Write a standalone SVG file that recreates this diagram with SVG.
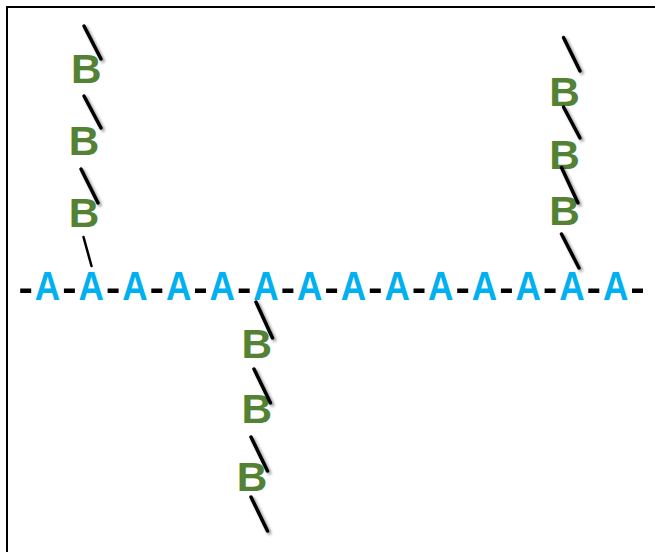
<svg xmlns="http://www.w3.org/2000/svg" width="655" height="552" viewBox="0 0 655 552">
  <style>
    .a { fill: #00B0F0; font-family: "Liberation Sans", Arial, sans-serif; font-weight: bold; font-size: 40px; text-anchor: middle; transform: scale(0.88, 1); }
    .b { fill: #548235; font-family: "Liberation Sans", Arial, sans-serif; font-weight: bold; font-size: 40px; text-anchor: middle; transform: scale(1.06, 1); }
    .dash { fill: #000; }
    .bond { stroke: #000; stroke-width: 3.5; stroke-linecap: round; fill: none; filter: url(#soft); }
    .bond.thin { stroke-width: 2.5; filter: none; }
    .frame { stroke: #000; stroke-width: 2; fill: none; }
  </style>
  <defs>
    <!-- soft grey shadow under the branch bonds -->
    <filter id="soft" x="-50%" y="-50%" width="200%" height="200%">
      <feGaussianBlur in="SourceAlpha" stdDeviation="1.6" result="blur"/>
      <feOffset in="blur" dx="2" dy="2" result="off"/>
      <feComponentTransfer in="off" result="shade">
        <feFuncA type="linear" slope="0.45"/>
      </feComponentTransfer>
      <feMerge>
        <feMergeNode in="shade"/>
        <feMergeNode in="SourceGraphic"/>
      </feMerge>
    </filter>
  </defs>

  <rect width="655" height="552" fill="#fff"/>
  <path class="frame" d="M7 552 V7 H655"/>

  <!-- backbone units -->
  <g id="a1" transform="translate(47.5 300)"><text class="a">A</text></g>
  <g id="a2" transform="translate(91.2 300)"><text class="a">A</text></g>
  <g id="a3" transform="translate(134.9 300)"><text class="a">A</text></g>
  <g id="a4" transform="translate(178.6 300)"><text class="a">A</text></g>
  <g id="a5" transform="translate(222.3 300)"><text class="a">A</text></g>
  <g id="a6" transform="translate(266 300)"><text class="a">A</text></g>
  <g id="a7" transform="translate(309.7 300)"><text class="a">A</text></g>
  <g id="a8" transform="translate(353.4 300)"><text class="a">A</text></g>
  <g id="a9" transform="translate(397.1 300)"><text class="a">A</text></g>
  <g id="a10" transform="translate(440.8 300)"><text class="a">A</text></g>
  <g id="a11" transform="translate(484.5 300)"><text class="a">A</text></g>
  <g id="a12" transform="translate(528.2 300)"><text class="a">A</text></g>
  <g id="a13" transform="translate(571.9 300)"><text class="a">A</text></g>
  <g id="a14" transform="translate(615.6 300)"><text class="a">A</text></g>

  <!-- branch units: left arm -->
  <g id="b1" transform="translate(86.3 83)"><text class="b">B</text></g>
  <g id="b2" transform="translate(84 155)"><text class="b">B</text></g>
  <g id="b3" transform="translate(84 227)"><text class="b">B</text></g>
  <!-- branch units: lower arm -->
  <g id="b4" transform="translate(256.7 358)"><text class="b">B</text></g>
  <g id="b5" transform="translate(256.7 423)"><text class="b">B</text></g>
  <g id="b6" transform="translate(252 491)"><text class="b">B</text></g>
  <!-- branch units: right arm -->
  <g id="b7" transform="translate(564.5 106)"><text class="b">B</text></g>
  <g id="b8" transform="translate(564.5 169)"><text class="b">B</text></g>
  <g id="b9" transform="translate(564.5 225)"><text class="b">B</text></g>

  <g id="connectors">
    <!-- backbone links -->
    <rect class="dash" x="20.2" y="288.5" width="11" height="4.5"/>
    <rect class="dash" x="63.9" y="288.5" width="11" height="4.5"/>
    <rect class="dash" x="107.6" y="288.5" width="11" height="4.5"/>
    <rect class="dash" x="151.3" y="288.5" width="11" height="4.5"/>
    <rect class="dash" x="195" y="288.5" width="11" height="4.5"/>
    <rect class="dash" x="238.7" y="288.5" width="11" height="4.5"/>
    <rect class="dash" x="282.4" y="288.5" width="11" height="4.5"/>
    <rect class="dash" x="326.1" y="288.5" width="11" height="4.5"/>
    <rect class="dash" x="369.8" y="288.5" width="11" height="4.5"/>
    <rect class="dash" x="413.5" y="288.5" width="11" height="4.5"/>
    <rect class="dash" x="457.2" y="288.5" width="11" height="4.5"/>
    <rect class="dash" x="500.9" y="288.5" width="11" height="4.5"/>
    <rect class="dash" x="544.6" y="288.5" width="11" height="4.5"/>
    <rect class="dash" x="588.3" y="288.5" width="11" height="4.5"/>
    <rect class="dash" x="632" y="288.5" width="11" height="4.5"/>

    <!-- left arm bonds -->
    <line class="bond" x1="84" y1="26" x2="101" y2="59"/>
    <line class="bond" x1="84" y1="96" x2="101" y2="128"/>
    <line class="bond" x1="81" y1="169" x2="98" y2="203"/>
    <line class="bond thin" x1="83.5" y1="237" x2="91.5" y2="266"/>

    <!-- lower arm bonds -->
    <line class="bond" x1="256" y1="302" x2="272.5" y2="338"/>
    <line class="bond" x1="254" y1="369" x2="270.5" y2="403"/>
    <line class="bond" x1="251" y1="437" x2="267.5" y2="471"/>
    <line class="bond" x1="251" y1="497" x2="267.5" y2="531"/>

    <!-- right arm bonds -->
    <line class="bond" x1="563.5" y1="37.5" x2="580" y2="71"/>
    <line class="bond" x1="563.5" y1="107" x2="580" y2="138"/>
    <line class="bond" x1="561.5" y1="167.5" x2="578" y2="203"/>
    <line class="bond" x1="561.5" y1="234" x2="579" y2="268"/>
  </g>
</svg>
